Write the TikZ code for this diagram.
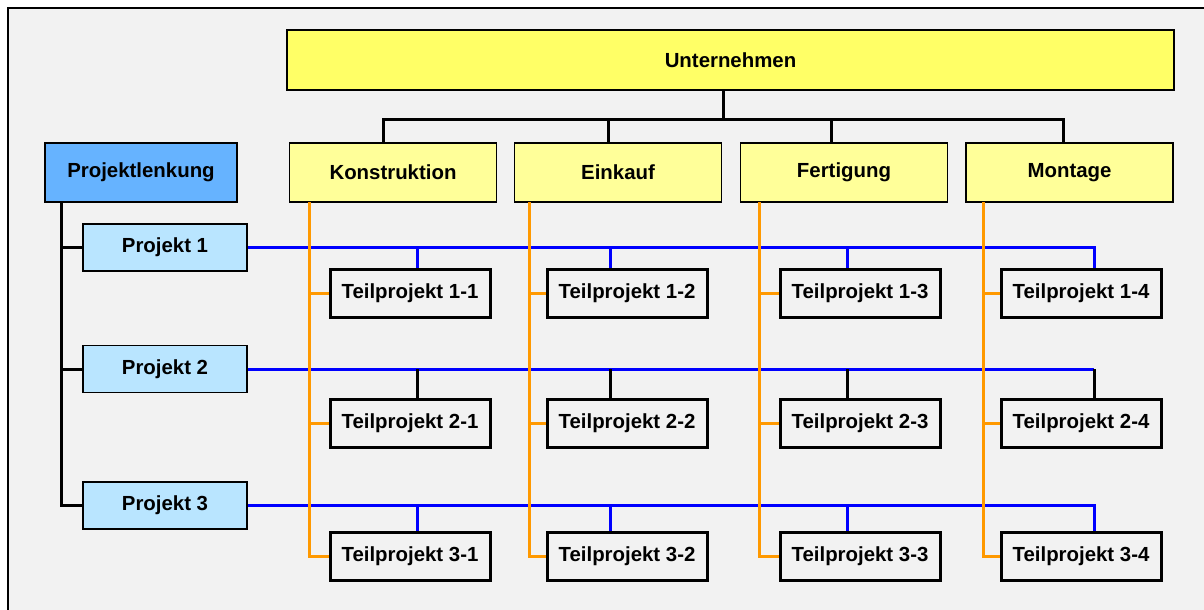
\documentclass[tikz,border=0pt]{standalone}
\usepackage{fontspec}
\setmainfont{Liberation Sans}
\usepackage{tikz}

\definecolor{rahmengrau}{HTML}{F2F2F2}
\definecolor{firmengelb}{HTML}{FFFF66}
\definecolor{abteilgelb}{HTML}{FFFF99}
\definecolor{lenkblau}{HTML}{66B3FF}
\definecolor{projblau}{HTML}{B9E5FF}
\definecolor{querblau}{HTML}{0000FF}
\definecolor{laengsorange}{HTML}{FF9900}

\begin{document}
\begin{tikzpicture}[x=0.5pt, y=-0.5pt,
    box/.style={draw, line width=0.8pt, inner sep=0pt, font=\bfseries\fontsize{10.2}{12}\selectfont},
    abteilung/.style={box, fill=abteilgelb, minimum width=103.5pt, minimum height=29.5pt},
    projekt/.style={box, fill=projblau, minimum width=82pt, minimum height=23.5pt},
    teil/.style={box, fill=rahmengrau, line width=1.5pt, minimum width=80pt, minimum height=24pt},
    tree/.style={line width=1.5pt},
    quer/.style={querblau, line width=1.5pt},
    laengs/.style={laengsorange, line width=1.5pt}]
    \useasboundingbox (0,0) rectangle (1204,610);

    % Frame
    \fill[rahmengrau] (8,8) rectangle (1230,630);
    \draw[line width=0.8pt] (8,630) -- (8,8) -- (1230,8);

    % Organisation
    \node[box, fill=firmengelb, minimum width=443.5pt, minimum height=30pt] (unt) at (730.5,60) {Unternehmen};
    \node[abteilung] (kon) at (393,172.5) {Konstruktion};
    \node[abteilung] (ein) at (618,172.5) {Einkauf};
    \node[abteilung] (fer) at (844,172.5) {Fertigung};
    \node[abteilung] (mon) at (1069.5,172.5) {Montage};

    % Projects
    \node[box, fill=lenkblau, minimum width=96pt, minimum height=29.5pt] (pl) at (141,172.5) {Projektlenkung};
    \node[projekt] (p1) at (165,247.5) {Projekt 1};
    \node[projekt] (p2) at (165,369) {Projekt 2};
    \node[projekt] (p3) at (165,505.5) {Projekt 3};

    % Sub-projects
    \node[teil] (t11) at (410,293.5) {Teilprojekt 1-1};
    \node[teil] (t12) at (627,293.5) {Teilprojekt 1-2};
    \node[teil] (t13) at (860,293.5) {Teilprojekt 1-3};
    \node[teil] (t14) at (1081,293.5) {Teilprojekt 1-4};
    \node[teil] (t21) at (410,423) {Teilprojekt 2-1};
    \node[teil] (t22) at (627,423) {Teilprojekt 2-2};
    \node[teil] (t23) at (860,423) {Teilprojekt 2-3};
    \node[teil] (t24) at (1081,423) {Teilprojekt 2-4};
    \node[teil] (t31) at (410,556) {Teilprojekt 3-1};
    \node[teil] (t32) at (627,556) {Teilprojekt 3-2};
    \node[teil] (t33) at (860,556) {Teilprojekt 3-3};
    \node[teil] (t34) at (1081,556) {Teilprojekt 3-4};

    % Company tree
    \coordinate (untfuss) at ([xshift=-3.75pt]unt.south);
    \coordinate (konkopf) at ([xshift=-5pt]kon.north);
    \coordinate (einkopf) at ([xshift=-5pt]ein.north);
    \coordinate (ferkopf) at ([xshift=-6.5pt]fer.north);
    \coordinate (monkopf) at ([xshift=-3.25pt]mon.north);
    \draw[tree] (untfuss) -- ++(0,30);
    \draw[tree] (konkopf) -- ++(0,-23) -| (monkopf);
    \draw[tree] (einkopf) -- ++(0,-23);
    \draw[tree] (ferkopf) -- ++(0,-23);

    % Project steering
    \coordinate (plfuss) at (61,202);
    \draw[tree] (plfuss) |- (p3.west);
    \draw[tree] (plfuss |- p1.west) -- (p1.west);
    \draw[tree] (plfuss |- p2.west) -- (p2.west);

    % Project lines
    \coordinate (s1) at ([xshift=3.5pt]t11.north);
    \coordinate (s2) at ([xshift=-8.5pt]t12.north);
    \coordinate (s3) at ([xshift=-6.5pt]t13.north);
    \coordinate (s4) at ([xshift=6.5pt]t14.north);
    \draw[quer] (p1.east) -| (s4);
    \draw[quer] (p1.east -| s1) -- (s1);
    \draw[quer] (p1.east -| s2) -- (s2);
    \draw[quer] (p1.east -| s3) -- (s3);
    \draw[quer] (p2.east) -- (p2.east -| s4);
    \draw[tree] (p2.east -| s1) -- (s1 |- t21.north);
    \draw[tree] (p2.east -| s2) -- (s2 |- t22.north);
    \draw[tree] (p2.east -| s3) -- (s3 |- t23.north);
    \draw[tree] (p2.east -| s4) -- (s4 |- t24.north);
    \draw[quer] (p3.east) -| (s4 |- t34.north);
    \draw[quer] (p3.east -| s1) -- (s1 |- t31.north);
    \draw[quer] (p3.east -| s2) -- (s2 |- t32.north);
    \draw[quer] (p3.east -| s3) -- (s3 |- t33.north);

    % Department lines
    \coordinate (konfuss) at (309,202);
    \draw[laengs] (konfuss) |- (t31.west);
    \draw[laengs] (konfuss |- t11.west) -- (t11.west);
    \draw[laengs] (konfuss |- t21.west) -- (t21.west);
    \coordinate (einfuss) at (529,202);
    \draw[laengs] (einfuss) |- (t32.west);
    \draw[laengs] (einfuss |- t12.west) -- (t12.west);
    \draw[laengs] (einfuss |- t22.west) -- (t22.west);
    \coordinate (ferfuss) at (759,202);
    \draw[laengs] (ferfuss) |- (t33.west);
    \draw[laengs] (ferfuss |- t13.west) -- (t13.west);
    \draw[laengs] (ferfuss |- t23.west) -- (t23.west);
    \coordinate (monfuss) at (983,202);
    \draw[laengs] (monfuss) |- (t34.west);
    \draw[laengs] (monfuss |- t14.west) -- (t14.west);
    \draw[laengs] (monfuss |- t24.west) -- (t24.west);
\end{tikzpicture}
\end{document}
